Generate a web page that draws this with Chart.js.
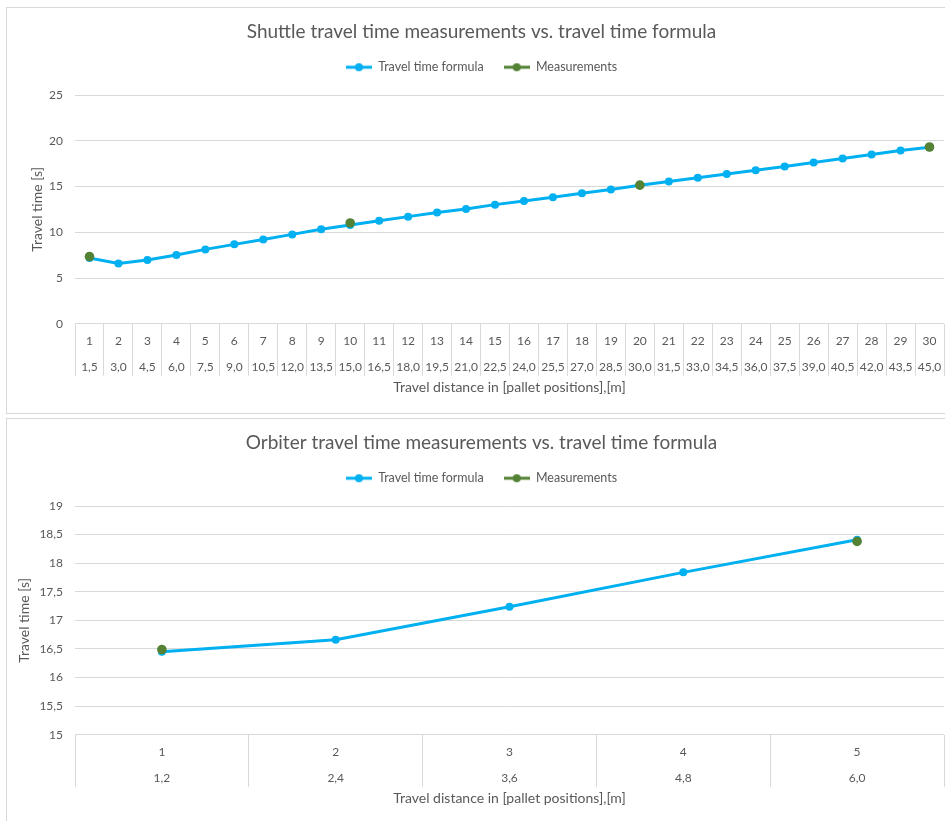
<!DOCTYPE html>
<html>
<head>
<meta charset="utf-8">
<script src="https://cdn.jsdelivr.net/npm/chart.js@4.4.1/dist/chart.umd.min.js"></script>
<style>
  html, body { margin: 0; padding: 0; background: #fff; width: 945px; height: 821px; overflow: hidden; }
  .box { position: absolute; left: 6px; width: 943px; border: 1px solid #d9d9d9; background: #fff; }
  .box canvas { display: block; }
  #box1 { top: 7px; height: 405px; }
  #box2 { top: 418px; height: 410px; }
</style>
</head>
<body>
<div class="box" id="box1"><canvas id="shuttleChart" width="943" height="405"></canvas></div>
<div class="box" id="box2"><canvas id="orbiterChart" width="943" height="405"></canvas></div>

<script>
// shuttle: 30 pallet positions, 1.5 m each
const shuttlePositions = ['1','2','3','4','5','6','7','8','9','10','11','12','13','14','15',
  '16','17','18','19','20','21','22','23','24','25','26','27','28','29','30'];
const shuttleMeters = ['1,5','3,0','4,5','6,0','7,5','9,0','10,5','12,0','13,5','15,0','16,5','18,0',
  '19,5','21,0','22,5','24,0','25,5','27,0','28,5','30,0','31,5','33,0','34,5','36,0','37,5','39,0',
  '40,5','42,0','43,5','45,0'];
const shuttleFormula = [7.19, 6.59, 6.96, 7.51, 8.13, 8.68, 9.22, 9.77, 10.32, 10.80,
  11.27, 11.71, 12.15, 12.55, 13.02, 13.43, 13.82, 14.26, 14.67, 15.14,
  15.54, 15.95, 16.38, 16.78, 17.19, 17.62, 18.06, 18.50, 18.94, 19.30];
const shuttleMeasured = [7.35, null, null, null, null, null, null, null, null, 11.02,
  null, null, null, null, null, null, null, null, null, 15.15,
  null, null, null, null, null, null, null, null, null, 19.32];

// orbiter: 5 pallet positions, 1.2 m each
const orbiterPositions = ['1','2','3','4','5'];
const orbiterMeters = ['1,2','2,4','3,6','4,8','6,0'];
const orbiterFormula = [16.45, 16.66, 17.24, 17.84, 18.41];
const orbiterMeasured = [16.49, null, null, null, 18.38];

const FONT = 'Lato, "Open Sans", sans-serif';
const GREY = '#595959';
const GRID = '#d9d9d9';
const BLUE = '#00b0f0';
const GREEN = '#548235';

// little "line with marker" icon like Excel's legend
function legendIcon(color) {
  const c = document.createElement('canvas');
  c.width = 26; c.height = 10;
  const g = c.getContext('2d');
  g.strokeStyle = color; g.lineWidth = 3;
  g.beginPath(); g.moveTo(0, 5); g.lineTo(26, 5); g.stroke();
  g.fillStyle = color;
  g.beginPath(); g.arc(13, 5, 4, 0, Math.PI * 2); g.fill();
  return c;
}
const icons = [legendIcon(BLUE), legendIcon(GREEN)];

// extra room between legend and plot
const legendGap = {
  id: 'legendGap',
  beforeLayout(chart) {
    const lg = chart.legend;
    if (lg && !lg._gapPatched) {
      const fit = lg.fit.bind(lg);
      lg.fit = function () { fit(); this.height += 11.5; };
      lg._gapPatched = true;
    }
  }
};

function makeChart(id, title, positions, meters, formula, measured, yMin, yMax, yStep, yTitlePad) {
  const labels = positions.map((p, i) => [p, meters[i]]);
  return new Chart(document.getElementById(id), {
    type: 'line',
    data: {
      labels: labels,
      datasets: [
        { label: 'Travel time formula', data: formula, order: 2,
          borderColor: BLUE, backgroundColor: BLUE, borderWidth: 3,
          pointRadius: 4, pointBackgroundColor: BLUE, pointBorderWidth: 0 },
        { label: 'Measurements', data: measured, order: 1,
          borderColor: GREEN, backgroundColor: GREEN, borderWidth: 3, spanGaps: false,
          pointRadius: 4.8, pointBackgroundColor: GREEN, pointBorderWidth: 0 }
      ]
    },
    plugins: [legendGap],
    options: {
      responsive: false,
      animation: false,
      layout: { padding: { left: 12, right: 6, top: 0, bottom: 17 } },
      plugins: {
        title: {
          display: true, text: title, color: GREY,
          font: { family: FONT, size: 19, weight: 'normal', lineHeight: 1.0 },
          padding: { top: 14, bottom: 0 }
        },
        legend: {
          position: 'top',
          labels: {
            usePointStyle: true, pointStyleWidth: 26, padding: 20, color: GREY,
            font: { family: FONT, size: 12.5 },
            sort: (a, b) => a.datasetIndex - b.datasetIndex,
            generateLabels(chart) {
              const items = Chart.defaults.plugins.legend.labels.generateLabels(chart);
              items.forEach(it => { it.pointStyle = icons[it.datasetIndex]; });
              return items;
            }
          }
        },
        tooltip: { enabled: false }
      },
      scales: {
        x: {
          offset: true,
          grid: { offset: true, drawOnChartArea: false, drawTicks: true, tickLength: 52, color: GRID },
          border: { display: false },
          ticks: { color: GREY, padding: -47.3, maxRotation: 0, autoSkip: false,
            font: { family: FONT, size: 12, lineHeight: '26px' } },
          title: { display: true, text: 'Travel distance in [pallet positions],[m]', color: GREY,
            font: { family: FONT, size: 14 }, padding: { top: 46, bottom: 0 } }
        },
        y: {
          min: yMin, max: yMax,
          afterFit(scale) { scale.width = 56; },
          grid: { color: GRID, drawTicks: false },
          border: { display: false },
          ticks: { stepSize: yStep, color: GREY, padding: 12, font: { family: FONT, size: 12 },
            callback: v => String(v).replace('.', ',') },
          title: { display: true, text: 'Travel time [s]', color: GREY,
            font: { family: FONT, size: 14 }, padding: { top: yTitlePad, bottom: 0 } }
        }
      }
    }
  });
}

makeChart('shuttleChart', 'Shuttle travel time measurements vs. travel time formula',
  shuttlePositions, shuttleMeters, shuttleFormula, shuttleMeasured, 0, 25, 5, 10);
makeChart('orbiterChart', 'Orbiter travel time measurements vs. travel time formula',
  orbiterPositions, orbiterMeters, orbiterFormula, orbiterMeasured, 15, 19, 0.5, -3);
</script>
</body>
</html>
